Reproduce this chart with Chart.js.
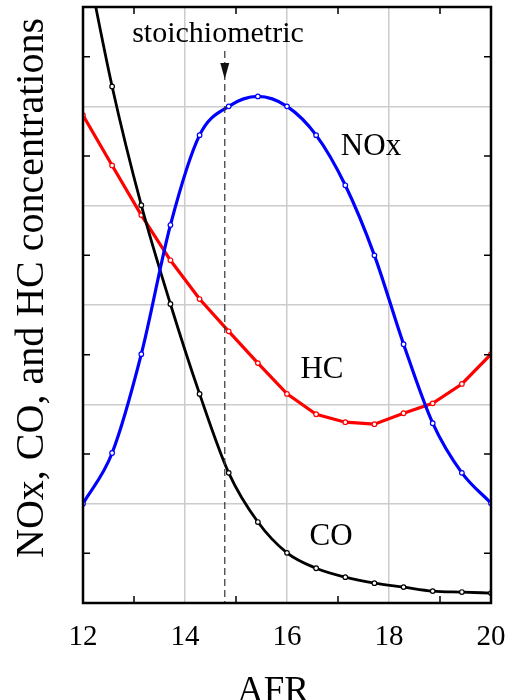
<!DOCTYPE html>
<html>
<head>
<meta charset="utf-8">
<script src="https://cdn.jsdelivr.net/npm/chart.js@4"></script>
<style>
  html, body { margin: 0; padding: 0; background: #fff; }
  #wrap { width: 508px; height: 700px; }
</style>
</head>
<body>
<div id="wrap"><canvas id="chart" width="508" height="700"></canvas></div>
<script>
// air-fuel ratio where the markers sit
const afr = [12, 12.571, 13.143, 13.714, 14.286, 14.857, 15.429, 16, 16.571, 17.143, 17.714, 18.286, 18.857, 19.429, 20];
const noxValues = [2.0, 3.02, 5.01, 7.61, 9.42, 10.0, 10.2, 10.0, 9.42, 8.41, 7.0, 5.21, 3.62, 2.62, 2.01];
const coValues = [13.3, 10.4, 8.01, 6.02, 4.21, 2.62, 1.63, 1.01, 0.70, 0.52, 0.40, 0.32, 0.24, 0.22, 0.20];
const hcValues = [9.82, 8.81, 7.81, 6.9, 6.12, 5.47, 4.83, 4.21, 3.8, 3.64, 3.6, 3.82, 4.02, 4.41, 5.01];
const xTickLabels = [12, 14, 16, 18, 20];
const stoich = 14.78;

const serif = "'Liberation Serif', 'Times New Roman', serif";

function pts(ys) {
  return afr.map((x, i) => ({ x: x, y: ys[i] }));
}

function gridColor(ctx) {
  const v = ctx.tick && ctx.tick.value;
  if (v === undefined) return "transparent";
  return (v % 2 === 0 && ctx.index > 0 && ctx.index < ctx.chart.scales[ctx.scale.id].ticks.length - 1) ? "#cccccc" : "transparent";
}

// frame, inward ticks, dashed stoichiometric line and text
const decorations = {
  id: "decorations",
  afterDatasetsDraw(chart) {
    const c = chart.ctx;
    const area = chart.chartArea;
    const xs = chart.scales.x;
    const ys = chart.scales.y;
    c.save();

    // dashed line + arrow
    const sx = xs.getPixelForValue(stoich);
    c.strokeStyle = "#333";
    c.lineWidth = 1.2;
    c.setLineDash([7, 4]);
    c.beginPath();
    c.moveTo(sx, 51);
    c.lineTo(sx, area.bottom);
    c.stroke();
    c.setLineDash([]);
    c.fillStyle = "#111";
    c.beginPath();
    c.moveTo(sx - 4.5, 63);
    c.lineTo(sx + 4.5, 63);
    c.lineTo(sx, 79);
    c.closePath();
    c.fill();

    // minor ticks pointing inward
    c.strokeStyle = "#000";
    c.lineWidth = 1.5;
    c.beginPath();
    [13, 15, 17, 19].forEach(v => {
      const px = xs.getPixelForValue(v);
      c.moveTo(px, area.bottom); c.lineTo(px, area.bottom - 7);
      c.moveTo(px, area.top); c.lineTo(px, area.top + 7);
    });
    [1, 3, 5, 7, 9, 11].forEach(v => {
      const py = ys.getPixelForValue(v);
      c.moveTo(area.left, py); c.lineTo(area.left + 7, py);
      c.moveTo(area.right, py); c.lineTo(area.right - 7, py);
    });
    c.stroke();

    // frame
    c.lineWidth = 2.5;
    c.strokeRect(area.left, area.top, area.right - area.left, area.bottom - area.top);

    // labels
    c.fillStyle = "#000";
    c.textAlign = "center";
    c.textBaseline = "alphabetic";
    c.font = "30px " + serif;
    c.fillText("stoichiometric", 218, 42);
    c.font = "31px " + serif;
    c.fillText("NOx", 371, 155);
    c.fillText("HC", 322, 378);
    c.fillText("CO", 331, 545);

    c.font = "37px " + serif;
    c.fillText("AFR", 273, 702);

    c.translate(43, 288);
    c.rotate(-Math.PI / 2);
    c.font = "40px " + serif;
    c.fillText("NOx, CO, and HC concentrations", 0, 0);
    c.restore();
  }
};

const lineStyle = (color, width) => ({
  borderColor: color,
  borderWidth: width,
  pointRadius: 2.3,
  pointBorderWidth: 1.2,
  pointBorderColor: color,
  pointBackgroundColor: "#fff",
  fill: false
});

new Chart(document.getElementById("chart"), {
  type: "line",
  data: {
    datasets: [
      Object.assign({ label: "NOx", data: pts(noxValues), cubicInterpolationMode: "monotone" }, lineStyle("#0000ff", 3.2)),
      Object.assign({ label: "CO", data: pts(coValues), cubicInterpolationMode: "monotone" }, lineStyle("#000000", 2.8)),
      Object.assign({ label: "HC", data: pts(hcValues), tension: 0 }, lineStyle("#ff0000", 3.2))
    ]
  },
  options: {
    responsive: false,
    animation: false,
    layout: { padding: { top: 7, right: 17, left: 0, bottom: 0 } },
    plugins: { legend: { display: false }, tooltip: { enabled: false } },
    scales: {
      x: {
        type: "linear",
        min: 12,
        max: 20,
        afterFit: s => { s.height = 97; s.paddingLeft = 0; s.paddingRight = 0; },
        border: { display: false },
        grid: { color: gridColor, lineWidth: 1.5, drawTicks: false },
        ticks: {
          stepSize: 1,
          padding: 17,
          color: "#000",
          font: { family: serif, size: 29 },
          callback: v => (xTickLabels.includes(v) ? String(v) : "")
        }
      },
      y: {
        min: 0,
        max: 12,
        afterFit: s => { s.width = 83; s.paddingTop = 0; s.paddingBottom = 0; },
        border: { display: false },
        grid: { color: gridColor, lineWidth: 1.5, drawTicks: false },
        ticks: { stepSize: 1, display: false }
      }
    }
  },
  plugins: [decorations]
});
</script>
</body>
</html>
